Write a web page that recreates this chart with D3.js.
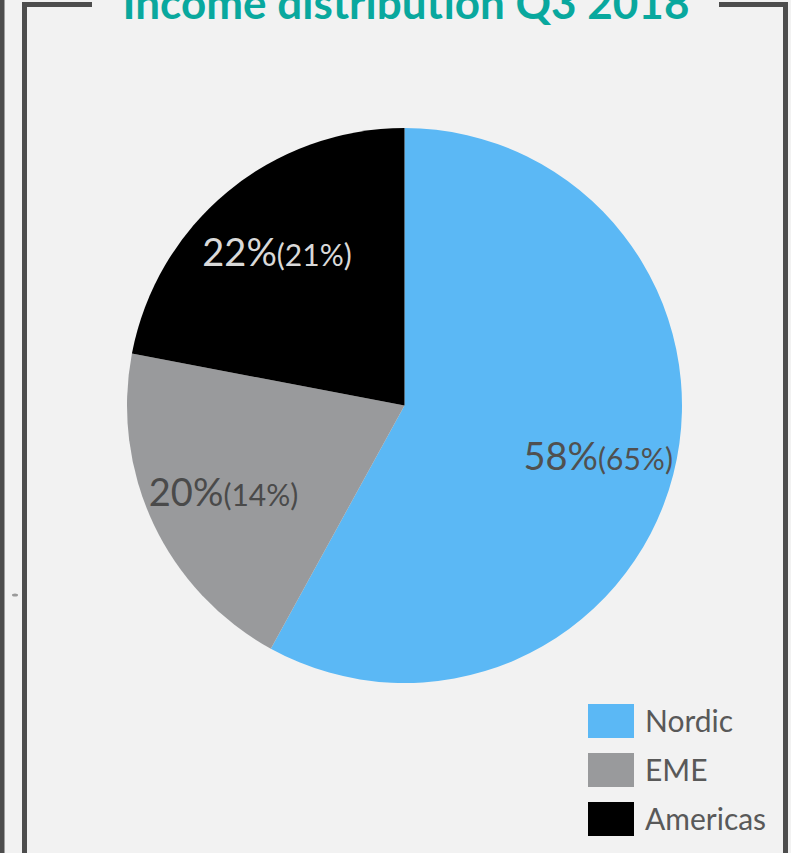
<!DOCTYPE html>
<html>
<head>
<meta charset="utf-8">
<script src="https://cdn.jsdelivr.net/npm/d3@7"></script>
<style>
  html, body { margin: 0; padding: 0; background: #f2f2f2; }
  svg { display: block; }
</style>
</head>
<body>
<svg id="chart" width="791" height="853"></svg>
<script>
const title = "Income distribution Q3 2018";
const categories = ["Nordic", "EME", "Americas"];
const shares = [58, 20, 22];          // Q3 2018 share (%)
const previousShares = [65, 14, 21];  // comparison share in brackets (%)
const colors = ["#5bb8f5", "#999a9c", "#000000"];
const labelColors = ["#505050", "#4a4a4a", "#d9d9d9"];

const W = 791, H = 853;
const svg = d3.select("#chart");
const fontFamily = "Lato, 'Open Sans', sans-serif";

svg.append("rect").attr("width", W).attr("height", H).attr("fill", "#f2f2f2");

// outer frame
const frame = svg.append("g").attr("fill", "none").attr("stroke", "#4d4d4d").attr("stroke-width", 5);
frame.append("line").attr("x1", 2).attr("y1", 0).attr("x2", 2).attr("y2", H);
frame.append("path").attr("d", `M24.5,${H} V4.5 H92`);
frame.append("path").attr("d", `M719,4.5 H785.5 V${H}`);
svg.append("ellipse").attr("cx", 15).attr("cy", 595).attr("rx", 3).attr("ry", 1.5).attr("fill", "#9a9a9a");

// title
svg.append("text")
  .attr("x", 406).attr("y", 19)
  .attr("text-anchor", "middle")
  .attr("font-family", fontFamily)
  .attr("font-weight", "bold")
  .attr("font-size", 44)
  .attr("fill", "#09a89e")
  .text(title);

// pie
const cx = 404.5, cy = 405.5, R = 277.5;
const data = categories.map((c, i) => ({ name: c, value: shares[i], prev: previousShares[i], color: colors[i], lc: labelColors[i] }));
const pie = d3.pie().value(d => d.value).sort(null);
const arcs = pie(data);
const arc = d3.arc().innerRadius(0).outerRadius(R);
const labelArc = d3.arc().innerRadius(200).outerRadius(200);

const g = svg.append("g").attr("transform", `translate(${cx},${cy})`);
g.selectAll("path.slice").data(arcs).join("path")
  .attr("class", "slice")
  .attr("d", arc)
  .attr("fill", d => d.data.color);

const lbl = g.selectAll("text.lbl").data(arcs).join("text")
  .attr("class", "lbl")
  .attr("transform", d => `translate(${labelArc.centroid(d)})`)
  .attr("text-anchor", "middle")
  .attr("dy", 15)
  .attr("font-family", fontFamily)
  .attr("fill", d => d.data.lc);
lbl.append("tspan").attr("font-size", 38).text(d => d.data.value + "%");
lbl.append("tspan").attr("font-size", 30).text(d => "(" + d.data.prev + "%)");

// legend
const legend = svg.append("g").attr("transform", "translate(588,704)");
const item = legend.selectAll("g").data(data).join("g")
  .attr("transform", (d, i) => `translate(0,${i * 49})`);
item.append("rect").attr("width", 46).attr("height", 34).attr("fill", d => d.color);
item.append("text")
  .attr("x", 57).attr("y", 17).attr("dy", "0.35em")
  .attr("font-family", fontFamily)
  .attr("font-size", 30)
  .attr("fill", "#595959")
  .text(d => d.name);
</script>
</body>
</html>
